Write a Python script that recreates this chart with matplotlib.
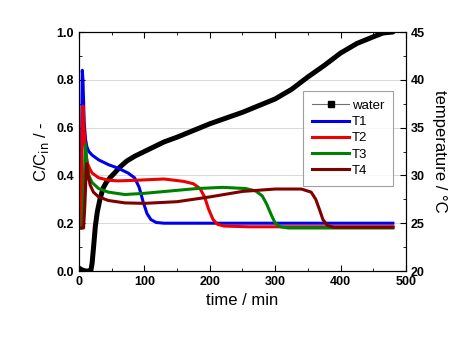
import numpy as np
import matplotlib.pyplot as plt

plt.rcParams['font.family'] = ['Liberation Sans', 'DejaVu Sans']

# water temperature (deg C) vs time (min)
t_water = [0, 5, 10, 15, 18, 20, 22, 25, 28, 32, 37, 42, 48, 55, 63, 73, 85, 100, 115, 130, 150, 175,
           200, 225, 250, 275, 300, 325, 350, 375, 400, 425, 450, 465, 480]
temp_water = [20.3, 20.1, 20.0, 20.0, 20.0, 20.8, 22.3, 24.7, 26.2, 27.5, 28.7, 29.3, 29.8, 30.3, 30.9, 31.5,
              32.0, 32.5, 33.0, 33.5, 34.0, 34.7, 35.4, 36.0, 36.6, 37.3, 38.0, 39.0, 40.3, 41.5, 42.8,
              43.8, 44.5, 44.9, 45.0]

# C/Cin for four outlets
t1 = [0, 3, 4, 5, 6, 8, 10, 12, 15, 20, 30, 45, 60, 75, 85, 92, 98, 104, 110, 118, 130, 200, 300, 400, 480]
c1 = [0.18, 0.19, 0.55, 0.84, 0.80, 0.62, 0.55, 0.52, 0.50, 0.485, 0.465, 0.445, 0.43, 0.41, 0.39, 0.35,
      0.29, 0.24, 0.215, 0.203, 0.2, 0.2, 0.2, 0.2, 0.2]

t2 = [0, 3, 4, 5, 6, 8, 10, 13, 16, 20, 30, 45, 60, 90, 130, 160, 175, 185, 192, 198, 205, 212, 222, 260,
      320, 400, 480]
c2 = [0.18, 0.18, 0.40, 0.62, 0.69, 0.58, 0.50, 0.45, 0.43, 0.41, 0.39, 0.38, 0.377, 0.38, 0.385, 0.375,
      0.365, 0.345, 0.31, 0.26, 0.215, 0.195, 0.188, 0.185, 0.185, 0.185, 0.185]

t3 = [0, 5, 7, 9, 10, 12, 15, 20, 30, 45, 70, 100, 140, 180, 220, 255, 270, 280, 287, 294, 300, 308, 320,
      400, 480]
c3 = [0.18, 0.18, 0.3, 0.47, 0.53, 0.45, 0.40, 0.37, 0.345, 0.33, 0.32, 0.325, 0.335, 0.345, 0.35, 0.345,
      0.335, 0.315, 0.28, 0.235, 0.2, 0.185, 0.18, 0.18, 0.18]

t4 = [0, 7, 9, 11, 12, 14, 17, 22, 30, 45, 70, 100, 150, 200, 250, 300, 340, 355, 362, 368, 373, 380, 390,
      420, 480]
c4 = [0.18, 0.18, 0.28, 0.42, 0.45, 0.40, 0.36, 0.33, 0.31, 0.295, 0.285, 0.283, 0.29, 0.31, 0.333, 0.343,
      0.343, 0.33, 0.30, 0.255, 0.215, 0.19, 0.183, 0.183, 0.183]

fig = plt.figure(figsize=(4.74, 3.42), dpi=100)
ax = fig.add_axes([0.1667, 0.2076, 0.6898, 0.6988])
ax2 = ax.twinx()
# concentration curves drawn above the water curve
ax.set_zorder(ax2.get_zorder() + 1)
ax.patch.set_visible(False)

ax.plot(t1, c1, color='#0000ee', lw=2.2, label='T1')
ax.plot(t2, c2, color='#ee0000', lw=2.2, label='T2')
ax.plot(t3, c3, color='#008000', lw=2.2, label='T3')
ax.plot(t4, c4, color='#800000', lw=2.2, label='T4')

ax2.plot(t_water, temp_water, color='black', lw=3.6, solid_capstyle='round', solid_joinstyle='round')
water_handle, = ax.plot([], [], color='#707070', lw=0.8, marker='s', ms=4,
                        mfc='black', mec='black', label='water')

ax.set_xlim(0, 500)
ax.set_ylim(0, 1.0)
ax2.set_ylim(20, 45)
ax.set_xticks(np.arange(0, 501, 100))
ax.set_xticks(np.arange(0, 501, 50), minor=True)
ax.set_yticks(np.arange(0, 1.01, 0.2))
ax.set_yticks(np.arange(0, 1.01, 0.1), minor=True)
ax2.set_yticks(np.arange(20, 46, 5))
ax2.set_yticks(np.arange(20, 46, 2.5), minor=True)
ax2.grid(True, which='major', axis='both', color='#d8d8d8', lw=0.7)
ax2.set_axisbelow(True)

ax.tick_params(which='both', direction='in', top=True, labelsize=9)
ax.tick_params(which='major', length=4)
ax.tick_params(which='minor', length=2)
ax2.tick_params(which='both', direction='in', labelsize=9)
ax2.tick_params(which='major', length=4)
ax2.tick_params(which='minor', length=2)
ax.set_yticklabels(['%.1f' % v for v in np.arange(0, 1.01, 0.2)])
for lbl in ax.get_xticklabels() + ax.get_yticklabels() + ax2.get_yticklabels():
    lbl.set_fontweight('bold')

ax.set_xlabel('time / min', fontsize=12)
ax.set_ylabel('C/C$_{\\rm in}$ / -', fontsize=12)
ax2.set_ylabel('temperature / °C', fontsize=12, rotation=270, labelpad=16)

handles = [water_handle] + ax.get_lines()[:4]
leg = ax.legend(handles, ['water', 'T1', 'T2', 'T3', 'T4'], loc='upper left',
                bbox_to_anchor=(0.685, 0.755), fontsize=9.5, frameon=True,
                fancybox=False, edgecolor='#888888', handlelength=2.8,
                handletextpad=0.2, labelspacing=0.3, borderpad=0.7, borderaxespad=0)
leg.get_frame().set_linewidth(0.8)

fig.savefig('out.png', dpi=100)
